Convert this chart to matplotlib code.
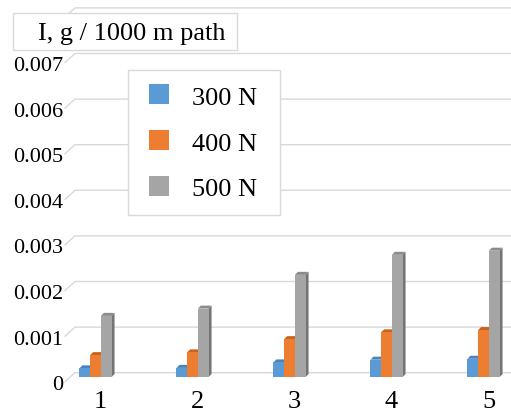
import matplotlib
matplotlib.use('Agg')
import matplotlib.pyplot as plt
from matplotlib.patches import Polygon, Rectangle
from matplotlib.transforms import Affine2D

# data
categories = ['1', '2', '3', '4', '5']
series_names = ['300 N', '400 N', '500 N']
wear_300 = [0.00019, 0.00020, 0.00032, 0.00038, 0.00040]
wear_400 = [0.00048, 0.00054, 0.00083, 0.00098, 0.00103]
wear_500 = [0.00134, 0.00150, 0.00224, 0.00268, 0.00277]
y_ticks = [0, 0.001, 0.002, 0.003, 0.004, 0.005, 0.006, 0.007]
y_tick_labels = ['0', '0.001', '0.002', '0.003', '0.004', '0.005', '0.006', '0.007']
grid_levels = y_ticks + [0.008]

front_colors = ['#5b9bd5', '#ed7d31', '#a5a5a5']
top_colors = ['#4a83bb', '#c9631f', '#8c8c8c']
side_colors = ['#3f6fa0', '#b25618', '#747474']

W, H = 511, 415
fig = plt.figure(figsize=(W / 100, H / 100), dpi=100)
ax = fig.add_axes([0, 0, 1, 1])
ax.set_axis_off()

# pixel geometry of the plot
x0_px, step_px = 95.5, 97.0      # centre of first group, group spacing
zero_px, scale_px = 377.0, 45600.0  # bar base (px from top), px per unit
ax.set_xlim((0 - x0_px) / step_px, (W - x0_px) / step_px)
ax.set_ylim((zero_px - H) / scale_px, zero_px / scale_px)

def px_x(d):
    return d / step_px

def px_y(d):
    return d / scale_px

# pixel transform (origin top-left) for the decorations
pt = Affine2D().scale(1 / W, -1 / H).translate(0, 1) + fig.transFigure

# back wall gridlines with slanted left end
front_dy, back_dy = px_y(-4.7), px_y(4.3)
xf = (65 - x0_px) / step_px
xb = (75 - x0_px) / step_px
xr = (W - x0_px) / step_px
for v in grid_levels:
    ax.plot([xf, xb, xr], [v + front_dy, v + back_dy, v + back_dy],
            color='#d9d9d9', lw=1.0, zorder=1, solid_joinstyle='miter')

for v, lab in zip(y_ticks, y_tick_labels):
    ax.text((63 - x0_px) / step_px, v + front_dy - px_y(8.5), lab, ha='right',
            va='baseline', fontsize=16, family='Liberation Serif', zorder=5)

# pseudo 3d columns
bw = px_x(10.7)
dx, dy = px_x(3.0), px_y(3.0)
series = [wear_300, wear_400, wear_500]
for i, cat in enumerate(categories):
    for j, vals in enumerate(series):
        v = vals[i]
        left = i + (j - 1.5) * bw
        right = left + bw
        side = Polygon([(right, 0), (right + dx, dy), (right + dx, v + dy), (right, v)],
                       closed=True, fc=side_colors[j], ec='none', zorder=3)
        top = Polygon([(left, v), (left + dx, v + dy), (right + dx, v + dy), (right, v)],
                      closed=True, fc=top_colors[j], ec='none', zorder=3)
        front = Rectangle((left, 0), bw, v, fc=front_colors[j], ec='none', zorder=3)
        ax.add_patch(side)
        ax.add_patch(top)
        ax.add_patch(front)
    ax.text(i + px_x(5), px_y(zero_px - 408), cat, ha='center', va='baseline',
            fontsize=19, family='Liberation Serif')

# axis title box
ax.add_patch(Rectangle((13, 13), 224, 37, transform=pt, fc='white', ec='#d9d9d9',
                       lw=1.0, zorder=6))
ax.text(132, 40, 'I, g / 1000 m path', transform=pt, ha='center', va='baseline',
        fontsize=19, family='Liberation Serif', zorder=7)

# legend
ax.add_patch(Rectangle((127.5, 70), 152, 145, transform=pt, fc='white', ec='#d9d9d9',
                       lw=1.0, zorder=6))
for j, name in enumerate(series_names):
    yc = 94.5 + 45.7 * j
    ax.add_patch(Rectangle((149, yc - 10), 20, 20, transform=pt, fc=front_colors[j],
                           ec='none', zorder=7))
    ax.text(192.5, yc + 10.5, name, transform=pt, ha='left', va='baseline',
            fontsize=19, family='Liberation Serif', zorder=7)

fig.savefig('out.png', dpi=100)
